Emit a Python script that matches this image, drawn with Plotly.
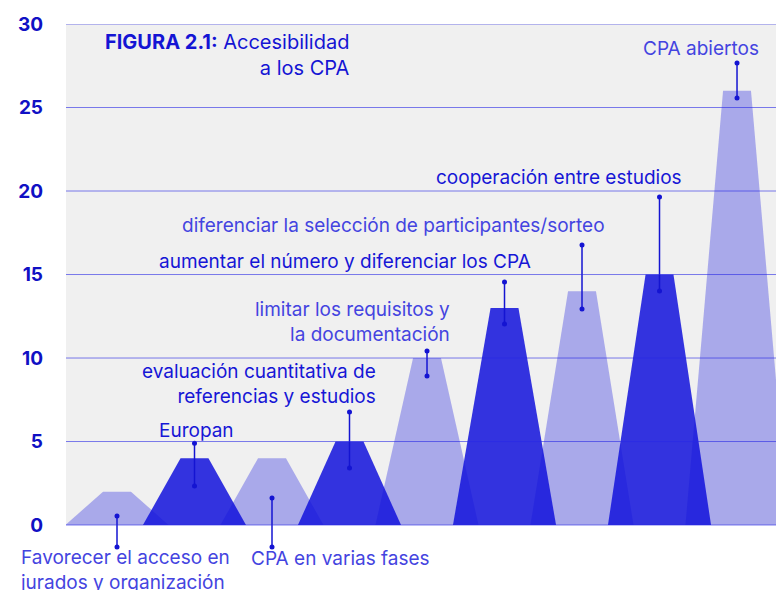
import plotly.graph_objects as go

# Accessibility measures, in order of frequency
categories = [
    "Favorecer el acceso en jurados y organización",
    "Europan",
    "CPA en varias fases",
    "evaluación cuantitativa de referencias y estudios",
    "limitar los requisitos y la documentación",
    "aumentar el número y diferenciar los CPA",
    "diferenciar la selección de participantes/sorteo",
    "cooperación entre estudios",
    "CPA abiertos",
]
values = [2, 4, 4, 5, 10, 13, 14, 15, 26]
shade = ["light", "dark", "light", "dark", "light", "dark", "light", "dark", "light"]
y_ticks = [0, 5, 10, 15, 20, 25, 30]

# Label text (with line breaks) and placement
label_text = [
    "Favorecer el acceso en<br>jurados y organización",
    "Europan",
    "CPA en varias fases",
    "evaluación cuantitativa de<br>referencias y estudios",
    "limitar los requisitos y<br>la documentación",
    "aumentar el número y diferenciar los CPA",
    "diferenciar la selección de participantes/sorteo",
    "cooperación entre estudios",
    "CPA abiertos",
]
label_x = [1.48, 1.03, 1.70, 3.365, 4.319, 5.364, 6.319, 7.312, 8.312]
label_y = [-2.7, 5.69, -1.98, 8.47, 12.13, 15.75, 17.96, 20.78, 28.56]
label_anchor = ["right", "center", "left", "right", "right", "right", "right", "right", "right"]
label_align = ["left", "center", "left", "right", "right", "right", "right", "right", "right"]
# Leader line ends (top, bottom) for each label
leader_top = [0.54, 4.9, 1.62, 6.77, 10.42, 14.55, 16.77, 19.64, 27.66]
leader_bottom = [-1.32, 2.34, -1.32, 3.41, 8.92, 12.04, 12.93, 14.01, 25.57]

FONT = "Inter"
BLUE = "rgb(20,20,210)"
FILL = {"light": "rgba(20,20,220,0.32)", "dark": "rgba(20,20,220,0.86)"}
TEXT = {"light": "rgb(68,68,224)", "dark": "rgb(22,22,214)"}
BASE_HALF = 0.665
TOP_HALF = 0.18

fig = go.Figure()

# Trapezoid "mountains"
for i, (v, s) in enumerate(zip(values, shade)):
    fig.add_trace(go.Scatter(
        x=[i - BASE_HALF, i - TOP_HALF, i + TOP_HALF, i + BASE_HALF, i - BASE_HALF],
        y=[0, v, v, 0, 0],
        fill="toself", fillcolor=FILL[s], mode="lines", line=dict(width=0),
        hoverinfo="skip", showlegend=False,
    ))

# Leader lines with dots at both ends
for i in range(len(values)):
    fig.add_trace(go.Scatter(
        x=[i, i], y=[leader_top[i], leader_bottom[i]],
        mode="lines+markers", line=dict(color=BLUE, width=1.5),
        marker=dict(size=5, color=BLUE), cliponaxis=False,
        hoverinfo="skip", showlegend=False,
    ))

# Labels
for i in range(len(values)):
    fig.add_annotation(
        x=label_x[i], y=label_y[i], xref="x", yref="y", text=label_text[i],
        showarrow=False, xanchor=label_anchor[i], yanchor="middle", align=label_align[i],
        font=dict(family=FONT, size=19, color=TEXT[shade[i]]),
    )

fig.add_annotation(
    x=3.03, y=28.14, xref="x", yref="y",
    text="<b>FIGURA 2.1:</b> Accesibilidad<br>a los CPA",
    showarrow=False, xanchor="right", yanchor="middle", align="right",
    font=dict(family=FONT, size=20, color="rgb(20,20,212)"),
)

# Grey panel behind the data range
fig.add_shape(type="rect", xref="paper", yref="y", x0=0, x1=1, y0=0, y1=30,
              fillcolor="#f0f0f0", line=dict(width=0), layer="below")

# Grid lines drawn over the shapes
for t in y_ticks:
    fig.add_shape(type="line", xref="paper", yref="y", x0=0, x1=1, y0=t, y1=t,
                  line=dict(color="rgba(40,40,230,0.6)", width=1), layer="above")

fig.update_layout(
    width=776, height=590,
    margin=dict(l=66, r=0, t=24, b=0),
    paper_bgcolor="white", plot_bgcolor="white",
    showlegend=False,
    xaxis=dict(range=[-0.658, 8.503], visible=False, fixedrange=True),
    yaxis=dict(
        range=[-3.89, 30], tickvals=y_ticks, ticktext=[str(t) for t in y_ticks],
        showgrid=False, zeroline=False, showline=False, ticks="",
        ticklabelstandoff=22,
        tickfont=dict(family=FONT, size=19, color="rgb(16,16,196)", weight="bold"),
    ),
)

fig.write_html("out.html")
